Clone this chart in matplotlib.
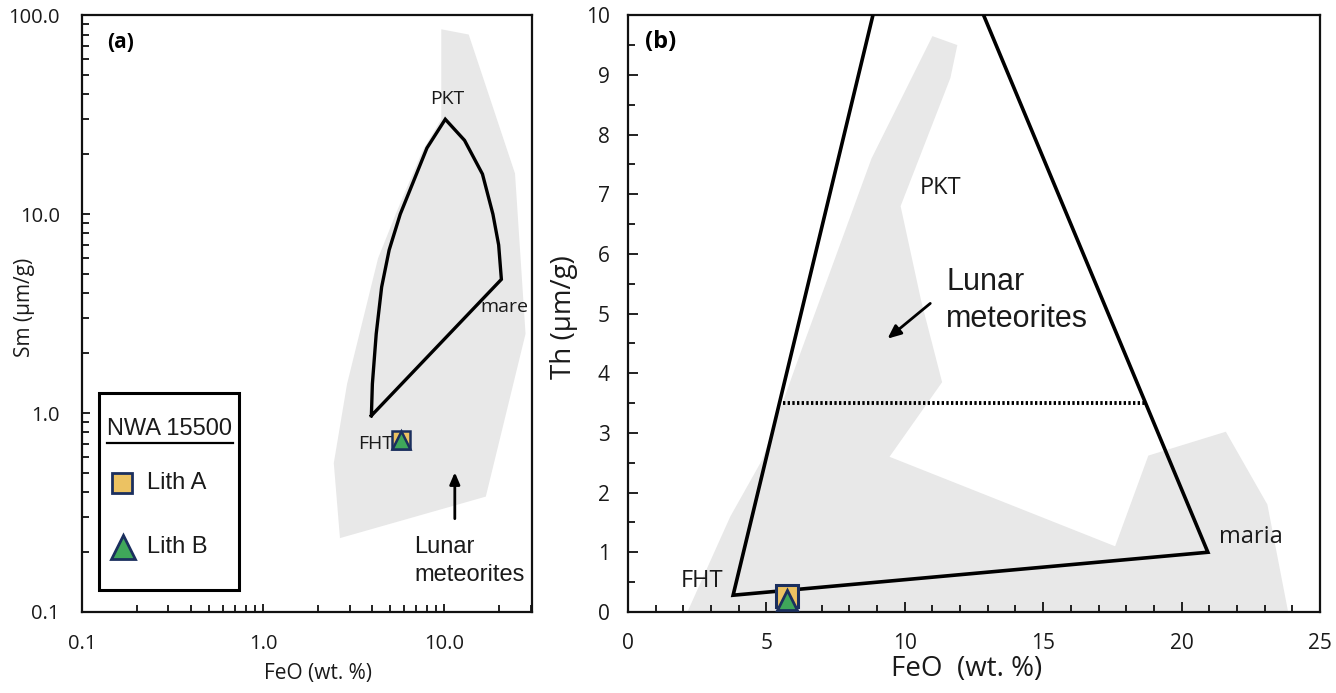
import matplotlib
matplotlib.use("Agg")
import matplotlib.pyplot as plt
from matplotlib.ticker import FixedLocator, FixedFormatter, MultipleLocator, LogLocator, NullFormatter
from matplotlib.patches import Polygon, Rectangle
from matplotlib.lines import Line2D

# ---------------- data ----------------
# Panel (a): Sm vs FeO (log-log)
a_field_feo = [9.6, 13.6, 24.5, 28.0, 16.9, 2.65, 2.45, 2.9, 4.3, 5.5, 7.6, 9.6]
a_field_sm = [85, 80, 16, 2.5, 0.38, 0.235, 0.56, 1.4, 6.0, 10.5, 21, 30]

a_outline_feo = [3.95, 4.0, 4.2, 4.5, 4.95, 5.7, 6.7, 8.0, 10.1, 12.9, 16.2, 18.5, 19.9, 20.6, 3.95]
a_outline_sm = [0.97, 1.4, 2.5, 4.3, 6.6, 10.0, 14.4, 21.5, 30.0, 23.5, 15.9, 10.0, 7.0, 4.7, 0.97]

# Panel (b): Th vs FeO (linear)
b_field_feo = [2.15, 3.7, 4.85, 6.2, 8.8, 11.0, 11.9, 11.65, 9.85, 10.6, 11.35, 9.45, 17.6, 18.8, 21.6, 23.1, 23.85]
b_field_th = [0.0, 1.6, 2.55, 4.3, 7.6, 9.65, 9.5, 8.95, 6.8, 5.2, 3.85, 2.6, 1.1, 2.62, 3.02, 1.8, 0.0]

b_outline_feo = [8.85, 3.8, 20.95, 12.85]
b_outline_th = [10.0, 0.28, 1.0, 10.0]

b_dotted_feo = [5.6, 18.75]
b_dotted_th = [3.5, 3.5]

# NWA 15500 lithologies
lith_names = ["Lith A", "Lith B"]
lith_feo = [5.75, 5.75]
lith_sm = [0.73, 0.73]
lith_th = [0.27, 0.2]

a_xticks = [0.1, 1.0, 10.0]
a_xticklabels = ["0.1", "1.0", "10.0"]
a_yticks = [0.1, 1.0, 10.0, 100.0]
a_yticklabels = ["0.1", "1.0", "10.0", "100.0"]

# ---------------- style ----------------
GRAY = "#e8e8e8"
GOLD = "#ecc262"
GREEN = "#3fa75a"
NAVY = "#1b2f5e"
TXT = "#1a1a1a"
OS = "Open Sans"
AR = "Liberation Sans"

plt.rcParams["font.family"] = [OS, "DejaVu Sans"]

fig = plt.figure(figsize=(13.36, 6.93), dpi=100)
axa = fig.add_axes([0.0614, 0.117, 0.337, 0.861])
axb = fig.add_axes([0.470, 0.117, 0.518, 0.861])

for ax in (axa, axb):
    for s in ax.spines.values():
        s.set_linewidth(1.6)
        s.set_color("#111111")

# ---------------- panel (a) ----------------
axa.set_xscale("log")
axa.set_yscale("log")
axa.set_xlim(0.1, 30.5)
axa.set_ylim(0.1, 100)

axa.add_patch(Polygon(list(zip(a_field_feo, a_field_sm)), closed=True,
                      facecolor=GRAY, edgecolor="none", zorder=1))
axa.plot(a_outline_feo, a_outline_sm, color="black", lw=2.4, zorder=3,
         solid_joinstyle="miter")

axa.plot(lith_feo[0], lith_sm[0], marker="s", ms=13, mfc=GOLD, mec=NAVY, mew=1.8,
         ls="none", zorder=5)
axa.plot(lith_feo[1], lith_sm[1], marker="^", ms=13, mfc=GREEN, mec=NAVY, mew=1.8,
         ls="none", zorder=6)

axa.xaxis.set_major_locator(FixedLocator(a_xticks))
axa.xaxis.set_major_formatter(FixedFormatter(a_xticklabels))
axa.yaxis.set_major_locator(FixedLocator(a_yticks))
axa.yaxis.set_major_formatter(FixedFormatter(a_yticklabels))
axa.xaxis.set_minor_locator(LogLocator(base=10, subs=[2, 3, 4, 5, 6, 7, 8, 9], numticks=20))
axa.yaxis.set_minor_locator(LogLocator(base=10, subs=[2, 3, 4, 5, 6, 7, 8, 9], numticks=20))
axa.xaxis.set_minor_formatter(NullFormatter())
axa.yaxis.set_minor_formatter(NullFormatter())
axa.tick_params(which="both", direction="in", width=1.3, colors="#111111")
axa.tick_params(which="major", length=6)
axa.tick_params(which="minor", length=5)
axa.tick_params(axis="x", which="major", pad=16, labelsize=14.5, labelcolor=TXT)
axa.tick_params(axis="y", which="major", pad=16, labelsize=14.5, labelcolor=TXT)

axa.set_xlabel("FeO (wt. %)", fontsize=15, family=OS, color=TXT)
axa.set_ylabel("Sm (µm/g)", fontsize=15, family=OS, color=TXT)
axa.xaxis.set_label_coords(0.524, -0.085)
axa.yaxis.set_label_coords(-0.105, 0.51)

axa.text(0.138, 73, "(a)", fontsize=15, fontweight="bold", family=OS, va="center", ha="left")
axa.text(10.3, 38, "PKT", fontsize=14, family=OS, ha="center", va="center", color=TXT)
axa.text(21.3, 3.4, "mare", fontsize=14, family=OS, ha="center", va="center", color=TXT)
axa.text(5.2, 0.70, "FHT", fontsize=14, family=OS, ha="right", va="center", color=TXT)
axa.annotate("", xy=(11.4, 0.52), xytext=(11.4, 0.285),
             arrowprops=dict(arrowstyle="-|>,head_length=0.7,head_width=0.3", color="black", lw=2),
             zorder=4)
axa.text(6.8, 0.18, "Lunar\nmeteorites", fontsize=17, family=AR, ha="left", va="center",
         linespacing=1.35, color=TXT)

# legend box (drawn in axes fraction)
axa.add_patch(Rectangle((0.038, 0.037), 0.311, 0.33, transform=axa.transAxes,
                        facecolor="white", edgecolor="black", lw=2.2, zorder=7))
axa.text(0.195, 0.307, "NWA 15500", transform=axa.transAxes, fontsize=17, family=AR,
         ha="center", va="center", zorder=8, color=TXT)
axa.add_line(Line2D([0.055, 0.335], [0.283, 0.283], transform=axa.transAxes,
                    color="black", lw=1.6, zorder=8))
axa.add_line(Line2D([0.089], [0.216], transform=axa.transAxes, marker="s", ms=14.5,
                    mfc=GOLD, mec=NAVY, mew=2, ls="none", zorder=8))
axa.add_line(Line2D([0.091], [0.108], transform=axa.transAxes, marker="^", ms=17,
                    mfc=GREEN, mec=NAVY, mew=2, ls="none", zorder=8))
axa.text(0.144, 0.216, lith_names[0], transform=axa.transAxes, fontsize=17, family=AR,
         ha="left", va="center", zorder=8, color=TXT)
axa.text(0.144, 0.108, lith_names[1], transform=axa.transAxes, fontsize=17, family=AR,
         ha="left", va="center", zorder=8, color=TXT)

# ---------------- panel (b) ----------------
axb.set_xlim(0, 25)
axb.set_ylim(0, 10)
axb.add_patch(Polygon(list(zip(b_field_feo, b_field_th)), closed=True,
                      facecolor=GRAY, edgecolor="none", zorder=1))
axb.plot(b_outline_feo, b_outline_th, color="black", lw=2.6, zorder=3,
         solid_joinstyle="miter")
axb.plot(b_dotted_feo, b_dotted_th, color="black", lw=2.8, ls=(0, (0.6, 0.6)), zorder=3)

axb.plot(lith_feo[0], lith_th[0], marker="s", ms=16, mfc=GOLD, mec=NAVY, mew=2.2,
         ls="none", zorder=5, clip_on=False)
axb.plot(lith_feo[1], lith_th[1], marker="^", ms=15, mfc=GREEN, mec=NAVY, mew=2.0,
         ls="none", zorder=6, clip_on=False)

axb.xaxis.set_major_locator(MultipleLocator(5))
axb.xaxis.set_minor_locator(MultipleLocator(1))
axb.yaxis.set_major_locator(MultipleLocator(1))
axb.yaxis.set_minor_locator(MultipleLocator(0.5))
axb.tick_params(which="both", direction="in", width=1.3, colors="#111111")
axb.tick_params(which="major", length=7)
axb.tick_params(which="minor", length=5)
axb.tick_params(axis="x", which="major", pad=15, labelsize=15, labelcolor=TXT)
axb.tick_params(axis="y", which="major", pad=13, labelsize=15, labelcolor=TXT)

axb.set_xlabel("FeO  (wt. %)", fontsize=20, family=OS, color=TXT)
axb.set_ylabel("Th (µm/g)", fontsize=20, family=OS, color=TXT)
axb.xaxis.set_label_coords(0.49, -0.072)
axb.yaxis.set_label_coords(-0.072, 0.494)

axb.text(0.6, 9.55, "(b)", fontsize=17, fontweight="bold", family=OS, ha="left", va="center")
axb.text(11.3, 7.1, "PKT", fontsize=17, family=OS, ha="center", va="center", color=TXT)
axb.text(21.35, 1.25, "maria", fontsize=17, family=OS, ha="left", va="center", color=TXT)
axb.text(3.45, 0.52, "FHT", fontsize=17, family=OS, ha="right", va="center", color=TXT)
axb.text(11.5, 5.22, "Lunar\nmeteorites", fontsize=22, family=AR, ha="left", va="center",
         linespacing=1.3, color=TXT)
axb.annotate("", xy=(9.3, 4.55), xytext=(11.0, 5.2),
             arrowprops=dict(arrowstyle="-|>,head_length=0.8,head_width=0.35", color="black", lw=2),
             zorder=4)

fig.savefig("out.png", dpi=100)
